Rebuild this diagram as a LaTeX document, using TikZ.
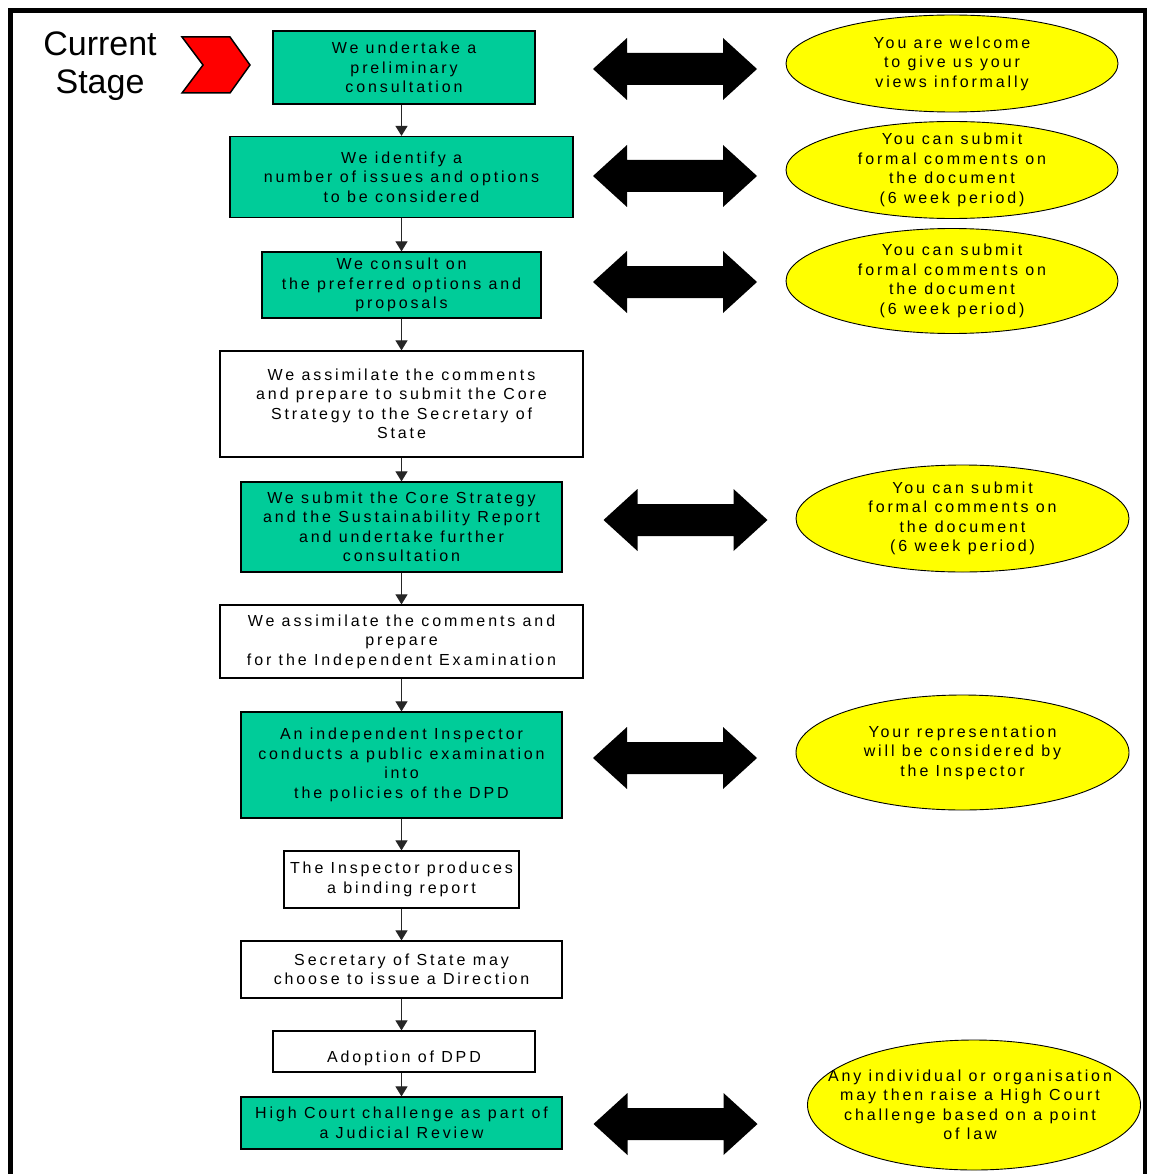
\documentclass[tikz,border=0pt]{standalone}
\usepackage{fontspec}
\setmainfont{Liberation Sans}
\newfontfamily\lsp[LetterSpace=18]{Liberation Sans}
\usetikzlibrary{arrows.meta,shapes.geometric}
\definecolor{stagegreen}{RGB}{0,204,153}
\definecolor{noteyellow}{RGB}{255,255,0}
\definecolor{chevred}{RGB}{255,0,0}
\tikzset{
  stepbox/.style={draw=black, line width=1.2pt, inner sep=0pt, align=center,
    font=\lsp\fontsize{16pt}{19.5pt}\selectfont},
  greenbox/.style={stepbox, fill=stagegreen},
  whitebox/.style={stepbox, fill=white},
  note/.style={ellipse, draw=black, line width=0.9pt, fill=noteyellow, inner sep=0pt},
  notetext/.style={inner sep=0pt, align=center, font=\lsp\fontsize{16pt}{19.5pt}\selectfont},
  conn/.style={line width=1.1pt, draw=black!85, -{Triangle[width=12pt,length=10pt]}},
  dbl/.pic={\fill[black] (-82,0) -- (-48,-31) -- (-48,-16) -- (48,-16) -- (48,-31) -- (82,0)
      -- (48,31) -- (48,16) -- (-48,16) -- (-48,31) -- cycle;}
}
\begin{document}
\begin{tikzpicture}[x=1pt,y=-1pt]
\useasboundingbox (0,0) rectangle (1148,1174);
\fill[white] (0,0) rectangle (1148,1174);
% outer frame
\draw[line width=4.5pt] (10.5,10.5) rectangle (1145,1210);

% current stage marker
\node[font=\fontsize{34pt}{38pt}\selectfont, align=center, inner sep=0pt] (cs) at (100,66) {Current\\Stage};
\draw[fill=chevred, draw=black, line width=1.5pt, line join=miter]
  (182,37) -- (230,37) -- (250,65) -- (230,93) -- (182,93) -- (203,65) -- cycle;

% steps
\node[greenbox, minimum width=262pt, minimum height=73pt] (b1) at (404,67.5) {We undertake a\\preliminary\\consultation};
\node[greenbox, minimum width=343pt, minimum height=81pt] (b2) at (401.5,177) {We identify a\\number of issues and options\\to be considered};
\node[greenbox, minimum width=279pt, minimum height=66pt] (b3) at (401.5,285) {We consult on\\the preferred options and\\proposals};
\node[whitebox, minimum width=363pt, minimum height=106pt] (b4) at (401.5,404) {We assimilate the comments\\and prepare to submit the Core\\Strategy to the Secretary of\\State};
\node[greenbox, minimum width=321pt, minimum height=90pt] (b5) at (401.5,527) {We submit the Core Strategy\\and the Sustainability Report\\and undertake further\\consultation};
\node[whitebox, minimum width=363pt, minimum height=73pt] (b6) at (401.5,641.5) {We assimilate the comments and\\prepare\\for the Independent Examination};
\node[greenbox, minimum width=321pt, minimum height=106pt] (b7) at (401.5,765) {An independent Inspector\\conducts a public examination\\into\\the policies of the DPD};
\node[whitebox, minimum width=235pt, minimum height=57pt] (b8) at (401.5,879.5) {The Inspector produces\\a binding report};
\node[whitebox, minimum width=321pt, minimum height=57pt] (b9) at (401.5,969.5) {Secretary of State may\\choose to issue a Direction};
\node[whitebox, minimum width=262pt, minimum height=41pt, text height=24pt, text depth=1.5pt] (b10) at (404,1051.5) {Adoption of DPD};
\node[greenbox, minimum width=321pt, minimum height=52pt] (b11) at (401.5,1123) {High Court challenge as part of\\a Judicial Review};

% connectors
\draw[conn] (b1.south -| b2.north) -- (b2.north);
\draw[conn] (b2.south) -- (b3.north);
\draw[conn] (b3.south) -- (b4.north);
\draw[conn] (b4.south) -- (b5.north);
\draw[conn] (b5.south) -- (b6.north);
\draw[conn] (b6.south) -- (b7.north);
\draw[conn] (b7.south) -- (b8.north);
\draw[conn] (b8.south) -- (b9.north);
\draw[conn] (b9.south) -- (b9.south |- b10.north);
\draw[conn] (b10.south -| b11.north) -- (b11.north);

% two-way block arrows
\pic at (675,69) {dbl};
\pic at (675,176) {dbl};
\pic at (675,282) {dbl};
\pic at (685.5,520) {dbl};
\pic at (675,758) {dbl};
\pic at (675.5,1124) {dbl};

% notes
\node[note, minimum width=332pt, minimum height=97pt] (e1) at (952,63.5) {};
\node[notetext] (t1) at (e1.center) {You are welcome\\to give us your\\views informally};
\node[note, minimum width=332pt, minimum height=97pt] (e2) at (952,170) {};
\node[notetext] (t2) at (e2.center) {You can submit\\formal comments on\\the document\\(6 week period)};
\node[note, minimum width=332pt, minimum height=105pt] (e3) at (952,281) {};
\node[notetext] (t3) at (e3.center) {You can submit\\formal comments on\\the document\\(6 week period)};
\node[note, minimum width=333pt, minimum height=107pt] (e4) at (962.5,518.5) {};
\node[notetext] (t4) at (e4.center) {You can submit\\formal comments on\\the document\\(6 week period)};
\node[note, minimum width=333pt, minimum height=115pt] (e5) at (962.5,752.5) {};
\node[notetext] (t5) at (e5.center) {Your representation\\will be considered by\\the Inspector};
\node[note, minimum width=333pt, minimum height=130pt] (e6) at (974,1105) {};
\node[notetext] (t6) at ([xshift=-4pt]e6.center) {Any individual or organisation\\may then raise a High Court\\challenge based on a point\\of law};
\end{tikzpicture}
\end{document}
